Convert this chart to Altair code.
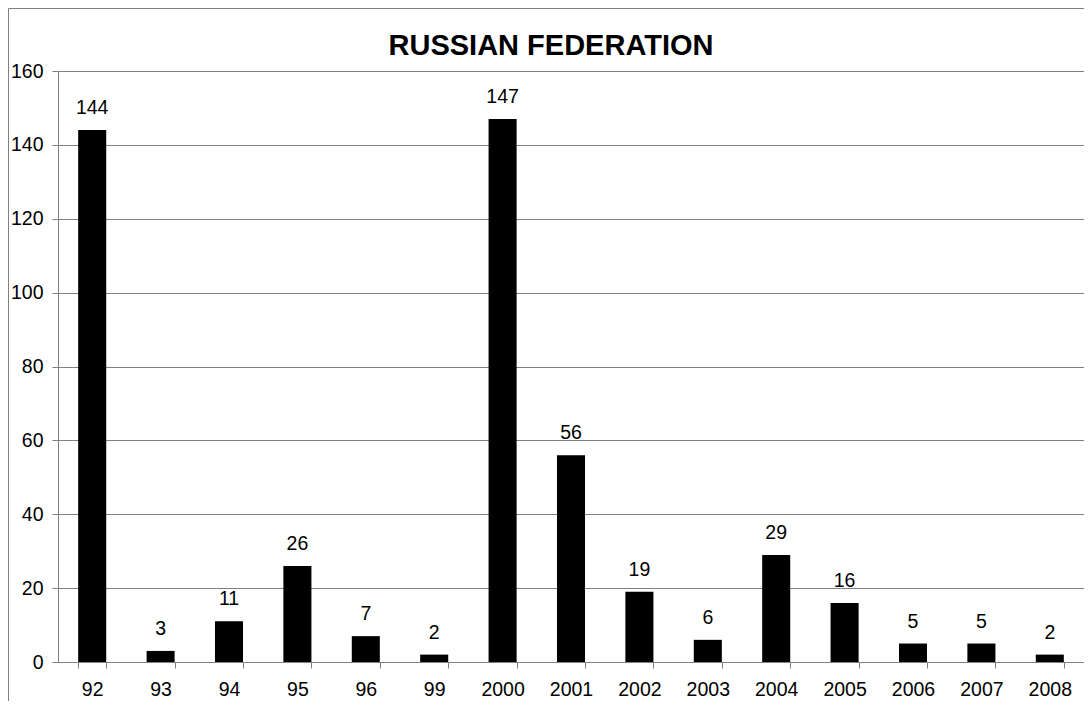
import altair as alt
import pandas as pd

years = ["92", "93", "94", "95", "96", "99", "2000", "2001", "2002", "2003",
         "2004", "2005", "2006", "2007", "2008"]
values = [144, 3, 11, 26, 7, 2, 147, 56, 19, 6, 29, 16, 5, 5, 2]
title_text = ["RUSSIAN FEDERATION"]

df = pd.DataFrame({"year": years, "value": values})
FONT = "Liberation Sans"

x = alt.X("year:N", sort=years, title=None,
          scale=alt.Scale(paddingInner=0.59, paddingOuter=0.295),
          axis=alt.Axis(labelAngle=0, labelFontSize=19.5, labelFont=FONT, labelColor="black",
                        tickBand="extent", tickSize=6, tickColor="#808080",
                        domainColor="#808080", labelPadding=12, grid=False))
y = alt.Y("value:Q", title=None,
          scale=alt.Scale(domain=[0, 160], nice=False),
          axis=alt.Axis(values=list(range(0, 161, 20)), labelFontSize=19.5, labelFont=FONT,
                        labelColor="black", tickSize=6, tickColor="#808080",
                        domainColor="#808080", gridColor="#808080", gridOpacity=1,
                        labelPadding=9))

bars = alt.Chart(df).mark_bar(color="black").encode(x=x, y=y)
labels = alt.Chart(df).mark_text(baseline="alphabetic", dy=-16, fontSize=19.5, font=FONT,
                                 color="black").encode(x=alt.X("year:N", sort=years),
                                                       y="value:Q", text="value:Q")

title_df = pd.DataFrame({"t": title_text})
title = alt.Chart(title_df).mark_text(font=FONT, fontSize=29, fontWeight="bold",
                                      color="black", align="center",
                                      baseline="alphabetic").encode(
    x=alt.value(493), y=alt.value(-16), text="t:N")

border_df = pd.DataFrame({"k": [0]})
left_border = alt.Chart(border_df).mark_rule(color="#808080", strokeWidth=1).encode(
    x=alt.value(-49.5), y=alt.value(-62.5), y2=alt.value(650))
top_border = alt.Chart(border_df).mark_rule(color="#808080", strokeWidth=1).encode(
    x=alt.value(-49.5), x2=alt.value(1040), y=alt.value(-62.5))

chart = alt.layer(bars, labels, title, left_border, top_border).properties(
    width=1026, height=591,
    autosize=alt.AutoSizeParams(type="none"),
    padding={"left": 50, "top": 63, "right": 0, "bottom": 39},
).configure_view(stroke=None)

chart.save("out.html", embed_options={"renderer": "svg", "actions": False})
